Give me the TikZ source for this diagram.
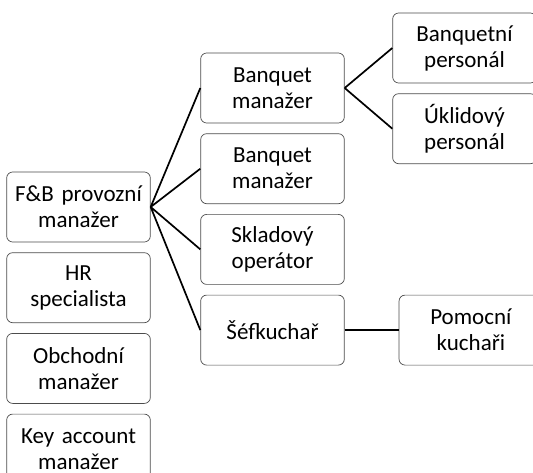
\documentclass[tikz,border=0pt]{standalone}
\usepackage{fontspec}
\setmainfont{Carlito}
\usetikzlibrary{positioning}
\tikzset{
    x=1pt, y=1pt,
    box/.style={draw=black!70, line width=0.7pt, rounded corners=6pt, fill=white,
        minimum width=139pt, minimum height=70pt, text width=137pt, align=center,
        font=\fontsize{23}{26}\selectfont}, % every box in the chart
    link/.style={line width=1.7pt, black}, % lines between boxes
    node distance=10pt and 54pt, % vertical and horizontal gaps
}
\begin{document}
\begin{tikzpicture}
\clip (0,0) rectangle (533,-473);
\useasboundingbox (0,0) rectangle (533,-473);
% left column
\node[box] (fb) at (78.5,-207) {F\&B provozní\\manažer};
\node[box, below=of fb] (hr) {HR\\specialista};
\node[box, below=of hr] (obch) {Obchodní\\manažer};
\node[box, below=of obch] (key) {Key account\\manažer};
% middle column
\node[box] (bq1) at (272.5,-88) {Banquet\\manažer};
\node[box, below=of bq1] (bq2) {Banquet\\manažer};
\node[box, below=of bq2] (sklad) {Skladový\\operátor};
\node[box, below=of sklad] (sef) {Šéfkuchař};
% right column
\node[box] (bqp) at (464.5,-48) {Banquetní\\personál};
\node[box, below=of bqp] (ukl) {Úklidový\\personál};
\node[box, right=of sef] (pom) {Pomocní\\kuchaři};
\draw[link] (fb.east) -- (bq1.west)
            (fb.east) -- (bq2.west)
            (fb.east) -- (sklad.west)
            (fb.east) -- (sef.west);
\draw[link] (bq1.east) -- (bqp.west)
            (bq1.east) -- (ukl.west);
\draw[link] (sef.east) -- (pom.west);
\end{tikzpicture}
\end{document}
